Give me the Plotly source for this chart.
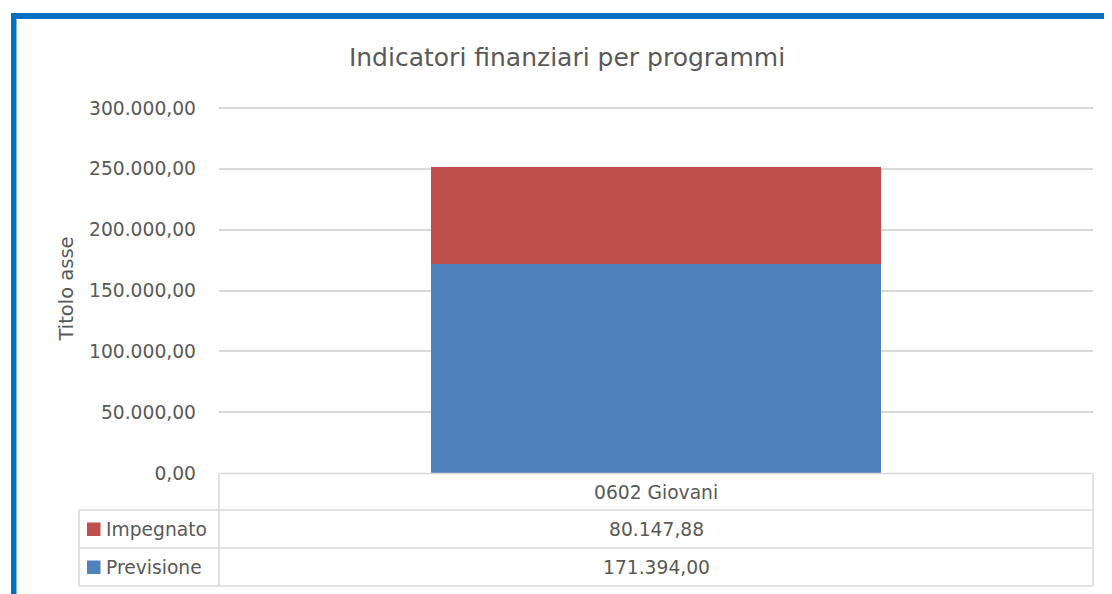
import plotly.graph_objects as go

# ---- data ----
categories = ["0602 Giovani"]
series_names = ["Previsione", "Impegnato"]
previsione = [171394.00]
impegnato = [80147.88]
y_ticks = [0, 50000, 100000, 150000, 200000, 250000, 300000]
chart_title = "Indicatori finanziari per programmi"
y_title = "Titolo asse"

# ---- layout constants ----
OFF = 8  # page body margin in the browser
W_PX, H_PX = 1112 - OFF, 594 - OFF
L, R, T, B = 219 - OFF, 19, 104 - OFF, 121
PW = W_PX - L - R
PH = H_PX - T - B
FONT = "DejaVu Sans"
TXT = "#595959"
GRID = "#d9d9d9"
C_PREV = "#4F81BD"
C_IMP = "#C0504D"
FS = 18.7
Y_MAX = y_ticks[-1] * (473 - 104) / (473 - 108)  # headroom so the top gridline is drawn


def px_x(p):  # p: pixel x in the target screenshot
    return (p - OFF - L) / PW


def px_y(p):  # p: pixel y in the target screenshot
    return (H_PX - B - (p - OFF)) / PH


def it_fmt(v):
    s = f"{v:,.2f}"
    return s.replace(",", "X").replace(".", ",").replace("X", ".")


fig = go.Figure()
fig.add_trace(go.Bar(x=categories, y=previsione, name=series_names[0],
                     marker=dict(color=C_PREV, line=dict(width=0))))
fig.add_trace(go.Bar(x=categories, y=impegnato, name=series_names[1],
                     marker=dict(color=C_IMP, line=dict(width=0))))

shapes = []
# blue frame (left + top)
shapes.append(dict(type="rect", xref="paper", yref="paper",
                   x0=px_x(11), x1=px_x(16.5), y0=px_y(600), y1=px_y(13),
                   fillcolor="#0070C0", line=dict(width=0), layer="above"))
shapes.append(dict(type="rect", xref="paper", yref="paper",
                   x0=px_x(11), x1=px_x(1120), y0=px_y(19), y1=px_y(13),
                   fillcolor="#0070C0", line=dict(width=0), layer="above"))

line_style = dict(color=GRID, width=1.5)
# data table lines
for yy, x0 in [(473.5, 219), (510, 79), (548, 79), (586, 79)]:
    shapes.append(dict(type="line", xref="paper", yref="paper",
                       x0=px_x(x0), x1=px_x(1093), y0=px_y(yy), y1=px_y(yy),
                       line=line_style))
for xx, y0 in [(79, 510), (219, 473.5), (1093, 473.5)]:
    shapes.append(dict(type="line", xref="paper", yref="paper",
                       x0=px_x(xx), x1=px_x(xx), y0=px_y(y0), y1=px_y(586),
                       line=line_style))

annotations = []
# header row: category
annotations.append(dict(text=categories[0], xref="paper", yref="paper",
                        x=px_x(656), y=px_y(492), showarrow=False,
                        xanchor="center", yanchor="middle",
                        font=dict(family=FONT, size=FS, color=TXT)))
rows = [(series_names[1], impegnato[0], C_IMP, 529),
        (series_names[0], previsione[0], C_PREV, 567)]
for name, val, col, yc in rows:
    annotations.append(dict(text=it_fmt(val), xref="paper", yref="paper",
                            x=px_x(656), y=px_y(yc), showarrow=False,
                            xanchor="center", yanchor="middle",
                            font=dict(family=FONT, size=FS, color=TXT)))
    annotations.append(dict(text=name, xref="paper", yref="paper",
                            x=px_x(104), y=px_y(yc), showarrow=False,
                            xanchor="left", yanchor="middle",
                            font=dict(family=FONT, size=FS, color=TXT)))
    shapes.append(dict(type="rect", xref="paper", yref="paper",
                       x0=px_x(87), x1=px_x(100.5), y0=px_y(yc + 7), y1=px_y(yc - 6.5),
                       fillcolor=col, line=dict(width=0)))

fig.update_layout(
    width=W_PX, height=H_PX,
    margin=dict(l=L, r=R, t=T, b=B, pad=0),
    paper_bgcolor="white", plot_bgcolor="white",
    barmode="stack", bargap=0.486,
    showlegend=False,
    separators=",.",
    title=dict(text=chart_title, x=(567 - OFF) / W_PX, xanchor="center",
               y=1 - (57 - OFF) / H_PX, yanchor="middle",
               font=dict(family=FONT, size=25, color=TXT)),
    xaxis=dict(showticklabels=False, showgrid=False, zeroline=False,
               showline=False, ticks="", range=[-0.5, 0.5]),
    yaxis=dict(range=[0, Y_MAX], tickvals=y_ticks, tickformat=",.2f",
               showgrid=True, gridcolor=GRID, gridwidth=1.5,
               zeroline=False, showline=False, ticks="",
               ticklabelstandoff=22,
               tickfont=dict(family=FONT, size=FS, color=TXT),
               title=dict(text=y_title, standoff=10,
                          font=dict(family=FONT, size=19.5, color=TXT))),
    shapes=shapes,
    annotations=annotations,
    hovermode=False,
)

fig.write_html("out.html")
